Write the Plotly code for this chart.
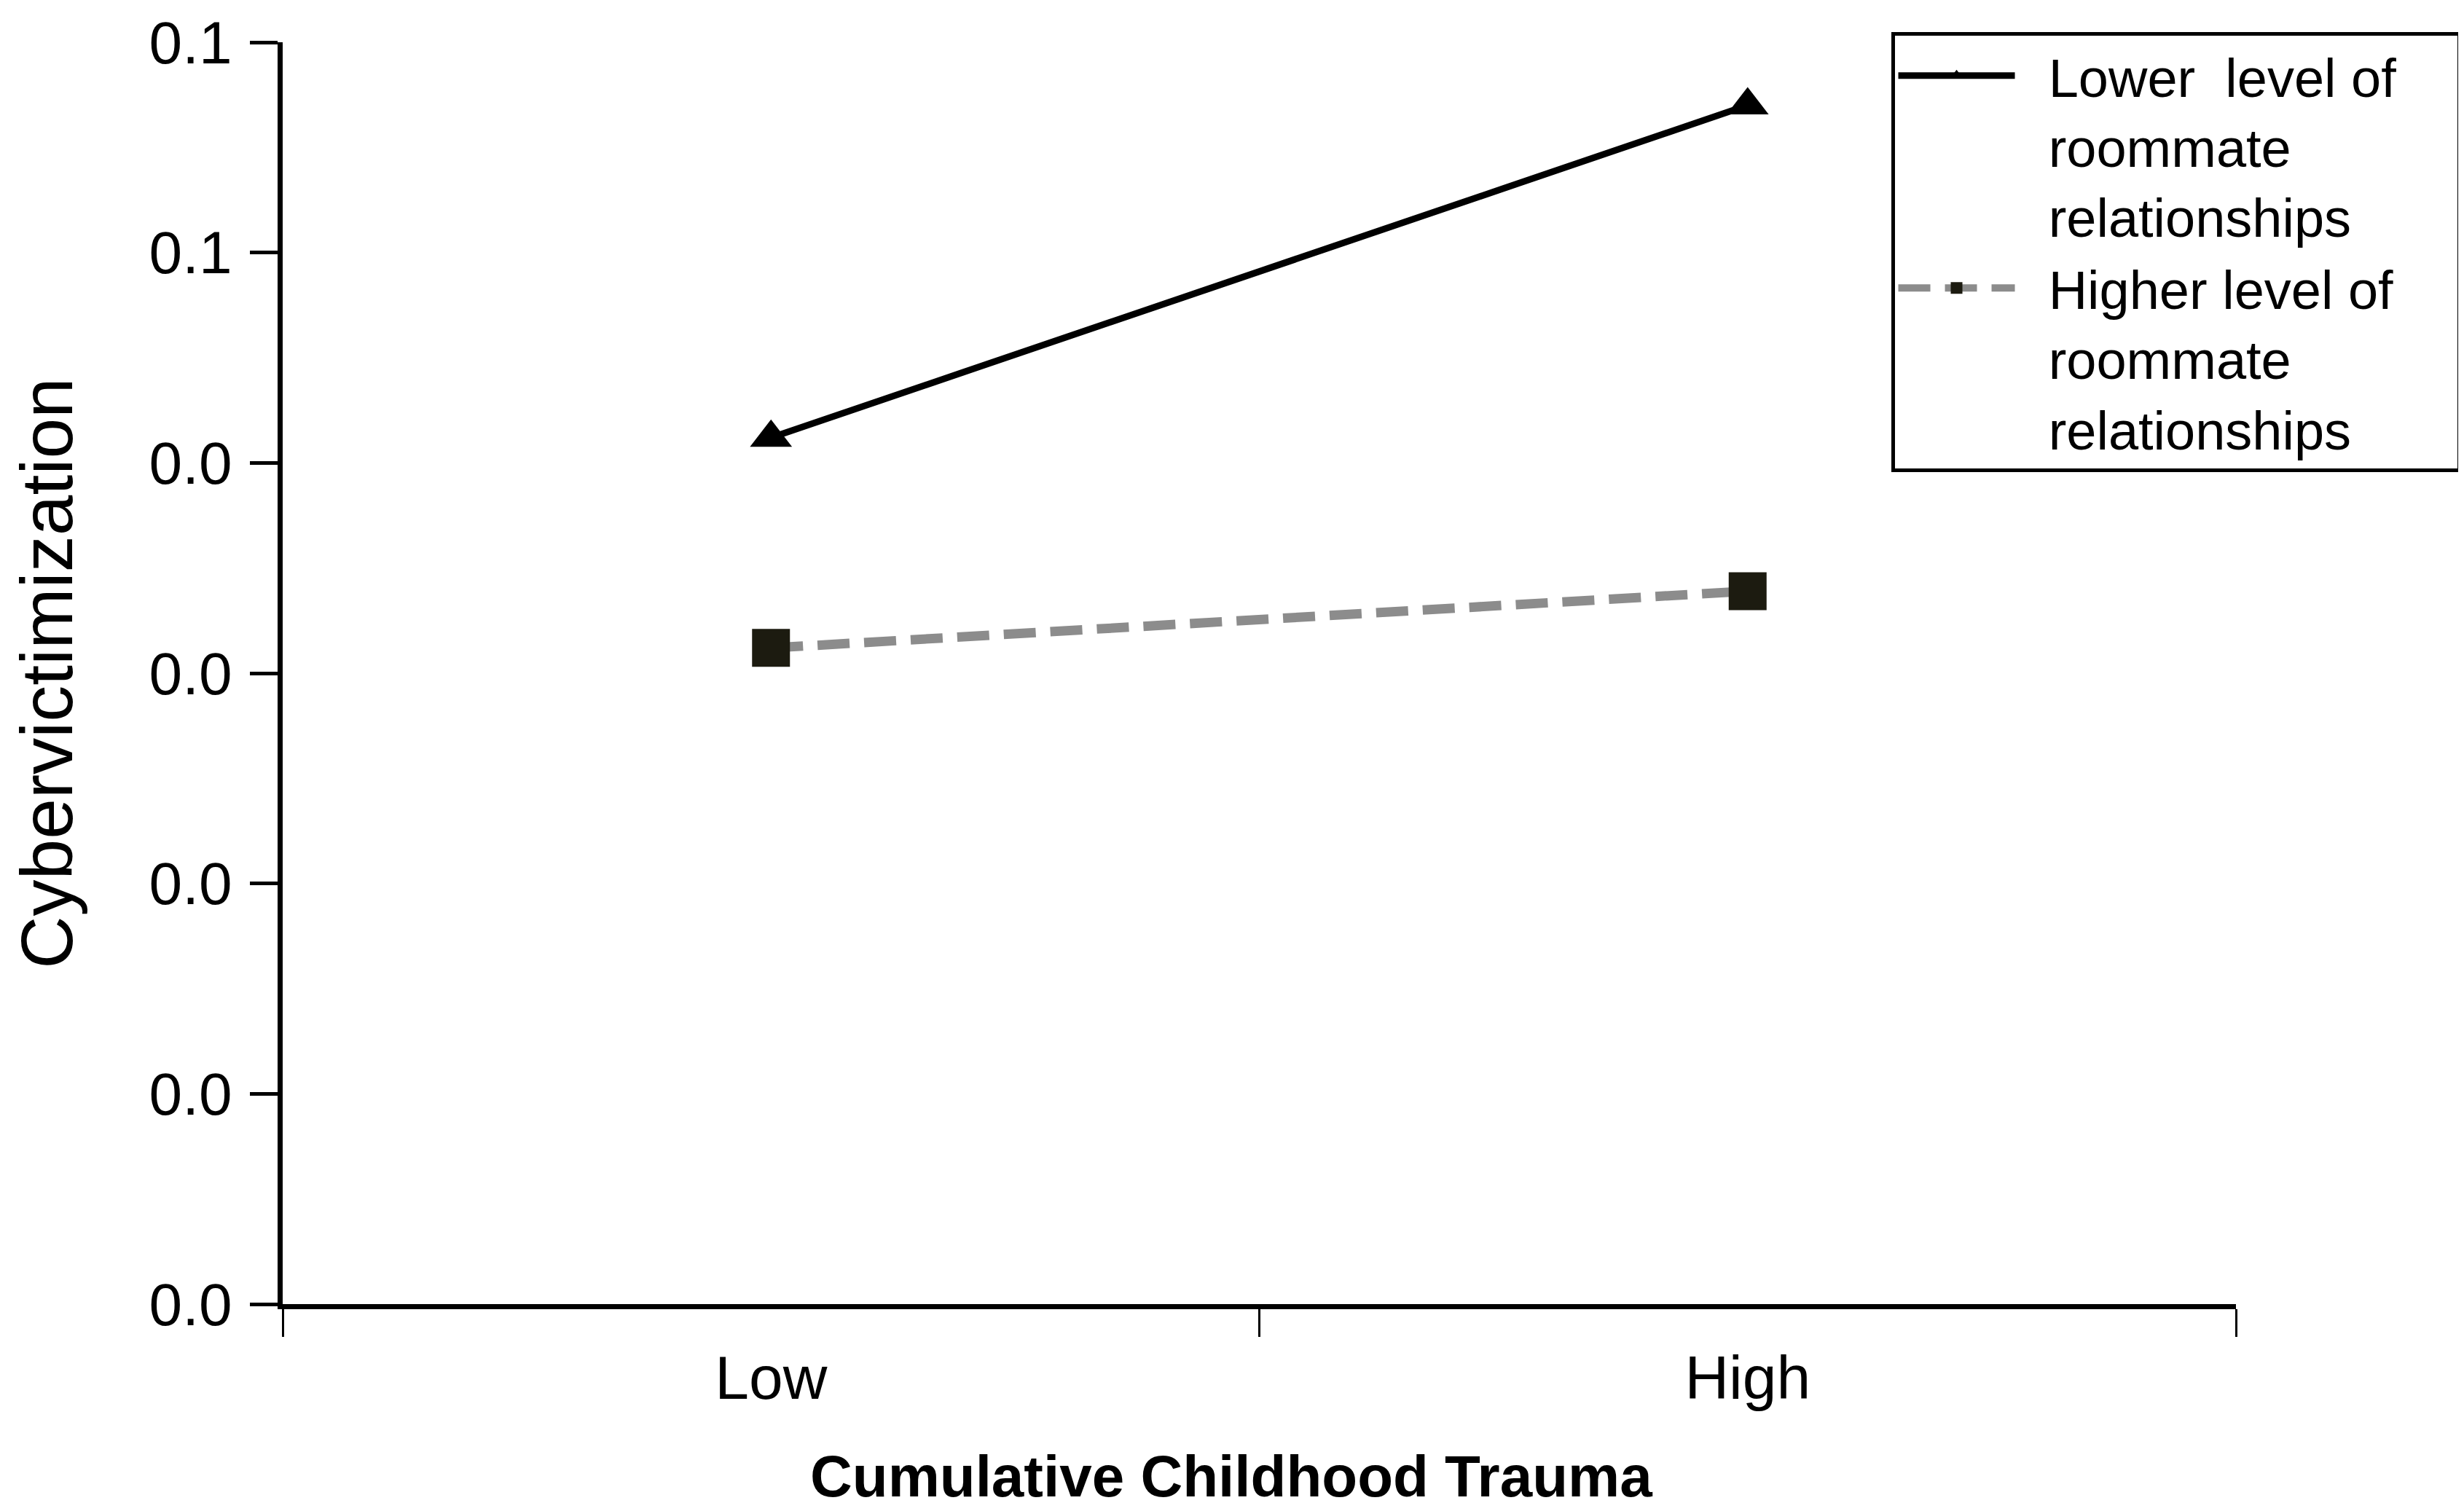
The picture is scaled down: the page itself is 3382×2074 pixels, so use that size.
"""
Interaction plot: cumulative childhood trauma x roommate relationships
"""

import plotly.graph_objects as go

# data
trauma_levels = ['Low', 'High']
lower_roommate = [0.0412, 0.0570]
higher_roommate = [0.0312, 0.0339]

# legend labels (leading/trailing nbsp only pad the legend box)
PAD = '\u00a0\u00a0'
series_names = [
    PAD + 'Lower\u00a0 level of' + PAD + '\u00a0<br>' + PAD + 'roommate<br>' + PAD + 'relationships',
    PAD + 'Higher level of' + PAD + '\u00a0\u00a0<br>' + PAD + 'roommate<br>' + PAD + 'relationships',
]

y_tickvals = [0.0, 0.01, 0.02, 0.03, 0.04, 0.05, 0.06]
y_ticktext = ['0.0', '0.0', '0.0', '0.0', '0.0', '0.1', '0.1']

x_title = 'Cumulative Childhood Trauma'
y_title = 'Cybervictimization'

FONT = 'Arial, Liberation Sans, sans-serif'

fig = go.Figure()

fig.add_trace(go.Scatter(
    x=trauma_levels, y=lower_roommate, name=series_names[0],
    mode='lines+markers',
    line=dict(color='black', width=9),
    marker=dict(symbol='triangle-up', size=50, color='black', line=dict(width=0)),
))

fig.add_trace(go.Scatter(
    x=trauma_levels, y=higher_roommate, name=series_names[1],
    mode='lines+markers',
    line=dict(color='#8c8c8c', width=13, dash='44px,20px'),
    marker=dict(symbol='square', size=52, color='#1c1b10', line=dict(width=0)),
))

fig.update_layout(
    width=3382, height=2074,
    margin=dict(l=380, r=321, t=50, b=292, autoexpand=False),
    paper_bgcolor='white', plot_bgcolor='white',
    font=dict(family=FONT, color='black', size=80),
    showlegend=True,
    legend=dict(
        x=0.8234, xanchor='left', y=1.008, yanchor='top',
        bordercolor='black', borderwidth=5, bgcolor='white',
        font=dict(size=74, family=FONT, color='black'),
        itemwidth=160, valign='top', tracegroupgap=0,
    ),
)

# x title as a paper annotation so it can sit slightly left of centre, as in the source
fig.add_annotation(
    text='<b>' + x_title + '</b>', xref='paper', yref='paper',
    x=0.4857, y=0, xanchor='center', yanchor='top', yshift=-190,
    showarrow=False, font=dict(size=80, family=FONT, color='black'),
)

fig.update_xaxes(
    type='category', range=[-0.5, 1.5], automargin=False,
    showline=True, linecolor='black', linewidth=7,
    ticks='outside', tickson='boundaries', ticklen=38, tickwidth=3, tickcolor='black',
    tickfont=dict(size=84, family=FONT), ticklabelstandoff=22,
    showgrid=False, zeroline=False,
)

fig.update_yaxes(
    range=[0, 0.06], automargin=False,
    tickvals=y_tickvals, ticktext=y_ticktext,
    showline=True, linecolor='black', linewidth=7,
    ticks='outside', ticklen=38, tickwidth=5, tickcolor='black',
    tickfont=dict(size=82, family=FONT), ticklabelstandoff=8,
    ticklabeloverflow='allow',
    showgrid=False, zeroline=False,
    title=dict(text=y_title, font=dict(size=100, family=FONT), standoff=130),
)

fig.write_html("out.html")
